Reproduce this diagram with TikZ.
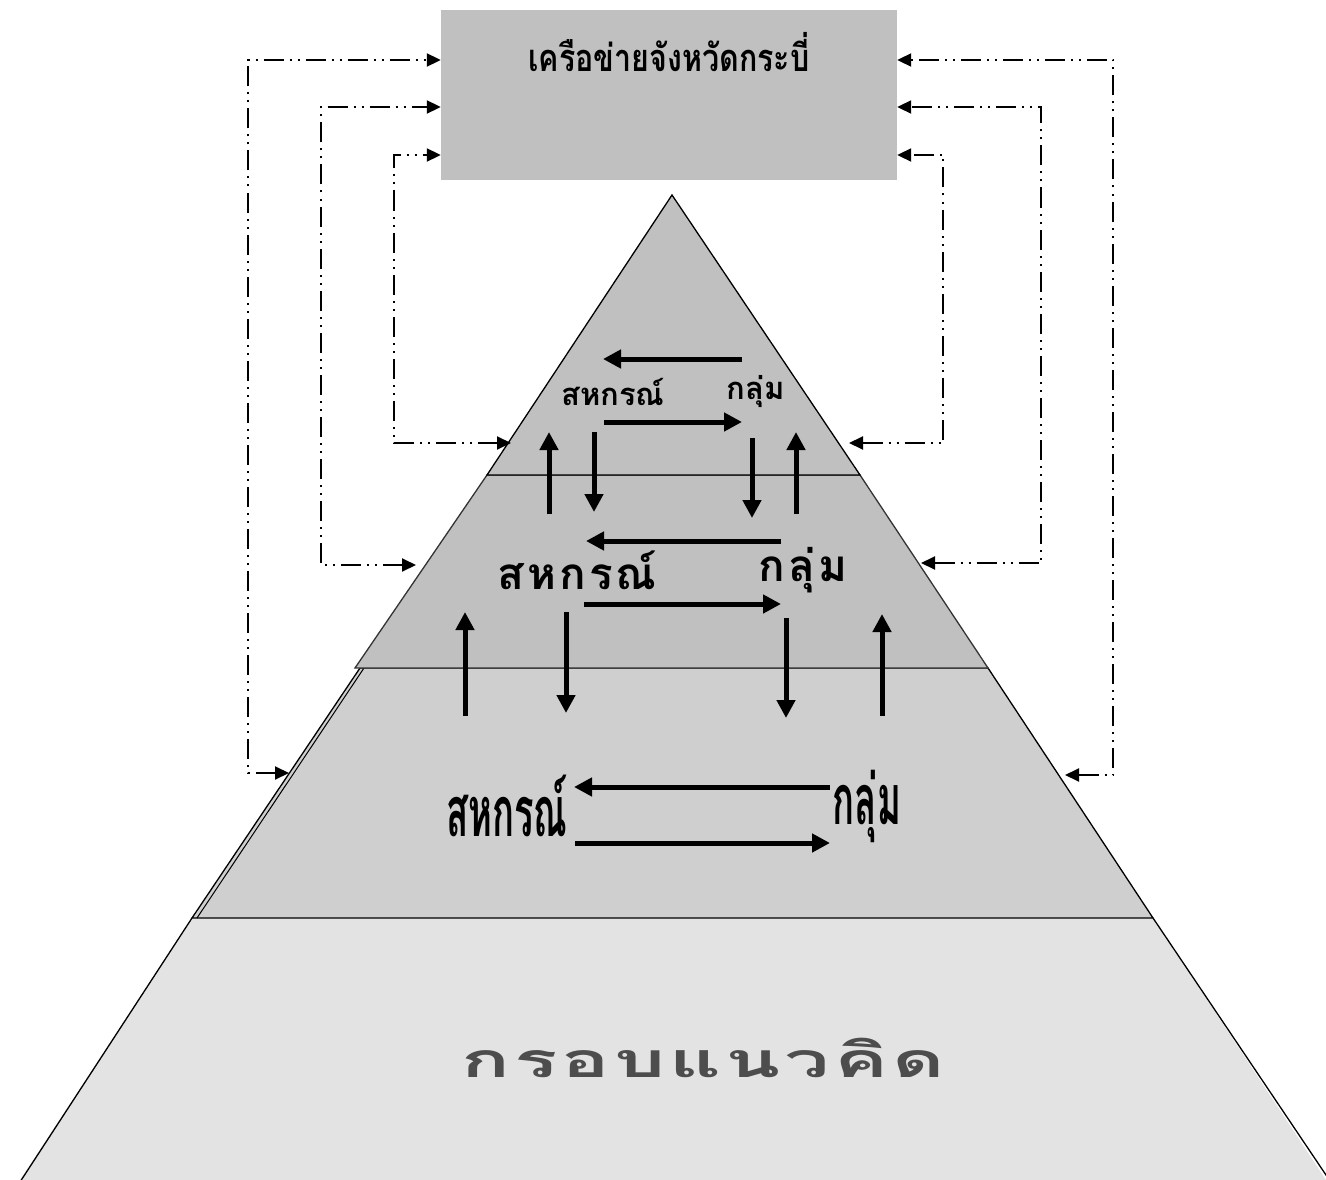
\documentclass[tikz,border=0pt]{standalone}
\usepackage{fontspec}
\newfontfamily\thaifont[Script=Thai]{Loma}
\newfontfamily\thaiwide[Script=Thai,LetterSpace=7]{Loma}
\newfontfamily\thaiframe[Script=Thai,LetterSpace=5]{Loma}
\usetikzlibrary{arrows.meta}
\definecolor{boxgray}{HTML}{C0C0C0}
\definecolor{midgray}{HTML}{CFCFCF}
\definecolor{lowgray}{HTML}{E3E3E3}
\definecolor{txtgray}{HTML}{4D4D4D}
\tikzset{
  layer/.style={draw=black,line width=1.3pt,line join=miter},
  fat/.style={line width=5pt,-{Triangle[length=18pt,width=18pt]}},
  link/.style={line width=2pt,dash pattern=on 20pt off 6pt on 2pt off 6pt on 2pt off 6pt,
    {Triangle[length=14pt,width=13pt]}-{Triangle[length=14pt,width=13pt]}},
  lbl/.style={inner sep=0pt,font=\thaifont\bfseries}
}
\begin{document}
\begin{tikzpicture}[x=1pt,y=-1pt]
\useasboundingbox (0,0) rectangle (1326,1180);
% box
\node[fill=boxgray,minimum width=456pt,minimum height=170pt,inner sep=0pt] (box) at (669,95) {};
\node[lbl,font=\thaifont\bfseries\fontsize{38}{44}\selectfont,xscale=0.8] (title) at (669,52) {เครือข่ายจังหวัดกระบี่};
% pyramid layers
\fill[lowgray] (192,918) -- (20,1180) -- (1326,1180) -- (1153,918) -- cycle;
\draw[layer] (192,918) -- (20,1182);
\draw[layer] (1153,918) -- (1328,1178);
\filldraw[layer,fill=midgray] (360,668) -- (192,918) -- (1153,918) -- (988,668) -- cycle;
\draw[line width=1pt] (364,668) -- (197,918);
\filldraw[layer,fill=boxgray,draw=black!80] (487,475) -- (355,668) -- (988,668) -- (860,475) -- cycle;
\filldraw[layer,fill=boxgray] (672,195) -- (487,475) -- (860,475) -- cycle;
% labels
\node[lbl,font=\thaifont\bfseries\fontsize{31}{36}\selectfont] (s1) at (613,392) {สหกรณ์};
\node[lbl,font=\thaifont\bfseries\fontsize{31}{36}\selectfont] (g1) at (756,392) {กลุ่ม};
\node[lbl,font=\thaiwide\bfseries\fontsize{44}{50}\selectfont] (s2) at (577,570) {สหกรณ์};
\node[lbl,font=\thaiwide\bfseries\fontsize{44}{50}\selectfont] (g2) at (803,570) {กลุ่ม};
\node[lbl,font=\thaifont\bfseries\fontsize{70}{80}\selectfont,xscale=0.52] (s3) at (507,806) {สหกรณ์};
\node[lbl,font=\thaifont\bfseries\fontsize{70}{80}\selectfont,xscale=0.52] (g3) at (867,806) {กลุ่ม};
\node[lbl,font=\thaiframe\bfseries\fontsize{48}{56}\selectfont,text=txtgray,xscale=1.68] (frame) at (703,1058) {กรอบแนวคิด};
% arrows top layer
\coordinate (t1a) at (742,359); \coordinate (t1b) at (603,359);
\coordinate (t2a) at (604,422); \coordinate (t2b) at (742,422);
\draw[fat] (t1a) -- (t1b);
\draw[fat] (t2a) -- (t2b);
\draw[fat] (549,514) -- (549,432);
\draw[fat] (594,432) -- (594,512);
\draw[fat] (752,438) -- (752,518);
\draw[fat] (796,514) -- (796,432);
% arrows middle layer
\draw[fat] (781,541) -- (586,541);
\draw[fat] (584,604) -- (781,604);
\draw[fat] (465,716) -- (465,612);
\draw[fat] (566,612) -- (566,713);
\draw[fat] (786,618) -- (786,718);
\draw[fat] (882,716) -- (882,614);
% arrows bottom layer
\draw[fat] (830,787) -- (574,787);
\draw[fat] (575,843) -- (830,843);
% dash-dot links left
\coordinate (eL1) at (289,773); \coordinate (bL1) at (box.west |- 0,60);
\coordinate (eL2) at (416,565); \coordinate (bL2) at (box.west |- 0,107);
\coordinate (eL3) at (511,443); \coordinate (bL3) at (box.west |- 0,155);
\draw[link] (eL1) -| (248,60) -- (bL1);
\draw[link] (eL2) -| (321,107) -- (bL2);
\draw[link] (eL3) -| (394,155) -- (bL3);
% right
\coordinate (eR1) at (1065,775); \coordinate (bR1) at (box.east |- 0,60);
\coordinate (eR2) at (921,563); \coordinate (bR2) at (box.east |- 0,107);
\coordinate (eR3) at (849,443); \coordinate (bR3) at (box.east |- 0,155);
\draw[link] (eR1) -| (1113,60) -- (bR1);
\draw[link] (eR2) -| (1041,107) -- (bR2);
\draw[link] (eR3) -| (943,155) -- (bR3);
\end{tikzpicture}
\end{document}
